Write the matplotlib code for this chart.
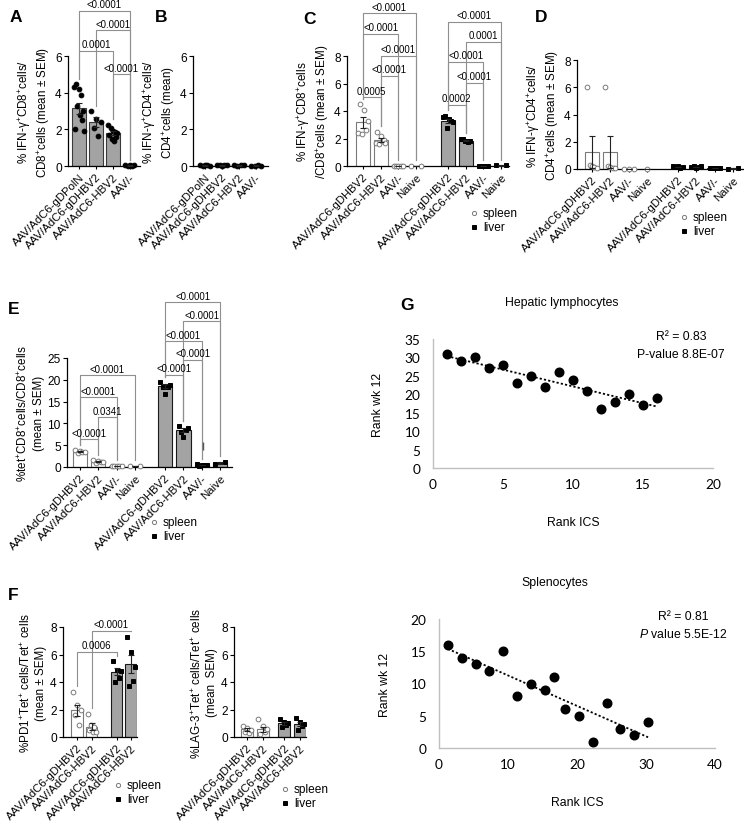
import numpy as np
import matplotlib
matplotlib.use('Agg')
import matplotlib.pyplot as plt
from matplotlib.lines import Line2D

plt.rcParams['font.family'] = ['Liberation Sans', 'DejaVu Sans']
plt.rcParams['mathtext.fontset'] = 'custom'
plt.rcParams['mathtext.rm'] = 'Liberation Sans'
plt.rcParams['mathtext.it'] = 'Liberation Sans:italic'

W, H = 744, 828

# ---------------- data ----------------
groups_a = ['AAV/AdC6-gDPolN', 'AAV/AdC6-gDHBV2', 'AAV/AdC6-HBV2', 'AAV/-']
groups_4 = ['AAV/AdC6-gDHBV2', 'AAV/AdC6-HBV2', 'AAV/-', 'Naive']
groups_2 = ['AAV/AdC6-gDHBV2', 'AAV/AdC6-HBV2']

# A: IFN-g+ CD8
a_mean = [3.15, 2.4, 1.8, 0.03]
a_sem = [0.3, 0.25, 0.1, 0.01]
a_dots = [[4.3, 2.0, 4.45, 3.3, 4.2, 2.8, 3.85, 2.5, 3.0, 1.9],
          [3.0, 2.05, 2.55, 1.65, 2.4],
          [2.25, 1.7, 2.05, 1.5, 1.9, 1.35, 1.85, 1.6, 1.8],
          [0.03, 0.02, 0.03, 0.02, 0.03]]
a_tests = [(0, 2, 6.3, '0.0001'), (2, 3, 5.0, '<0.0001'),
           (1, 3, 7.4, '<0.0001'), (0, 3, 8.45, '<0.0001')]

# B: IFN-g+ CD4
b_mean = [0.03, 0.03, 0.03, 0.02]
b_sem = [0.01, 0.01, 0.01, 0.01]
b_dots = [[0.03, 0.02, 0.04, 0.03, 0.02], [0.03, 0.04, 0.02, 0.03, 0.03],
          [0.04, 0.02, 0.03, 0.03], [0.02, 0.02, 0.03, 0.02]]

# C: IFN-g+ CD8 spleen (0-3) / liver (4-7)
c_mean = [3.2, 1.9, 0.02, 0.02, 3.3, 1.85, 0.02, 0.05]
c_sem = [0.4, 0.15, 0.01, 0.01, 0.15, 0.05, 0.01, 0.02]
c_dots = [[2.4, 4.5, 2.3, 4.05, 2.6, 3.3],
          [1.7, 2.5, 1.6, 2.2, 1.8, 1.9, 1.7],
          [0.02, 0.02, 0.02, 0.02, 0.02],
          [0.02, 0.02],
          [3.55, 3.65, 2.8, 3.4, 3.3, 3.2],
          [1.95, 2.0, 1.8, 1.85, 1.75, 1.85],
          [0.02, 0.02, 0.02, 0.02, 0.02],
          [0.04, 0.06]]
c_tests = [(0, 1, 5.0, '0.0005'), (1, 2, 6.55, '<0.0001'), (1, 3, 8.0, '<0.0001'),
           (0, 2, 9.6, '<0.0001'), (0, 3, 11.1, '<0.0001'),
           (4, 5, 4.45, '0.0002'), (5, 6, 6.05, '<0.0001'), (4, 6, 7.6, '<0.0001'),
           (5, 7, 9.05, '0.0001'), (4, 7, 10.5, '<0.0001')]

# D: IFN-g+ CD4 spleen / liver
d_mean = [1.25, 1.25, 0.02, 0.0, 0.15, 0.15, 0.05, 0.05]
d_sem = [1.2, 1.2, 0.01, 0.0, 0.02, 0.02, 0.01, 0.02]
d_dots = [[6.0, 0.3, 0.2, 0.15, 0.05],
          [6.0, 0.2, 0.15, 0.1, 0.05],
          [0.02, 0.02, 0.02],
          [0.0],
          [0.2, 0.15, 0.2, 0.1, 0.15],
          [0.15, 0.2, 0.1, 0.15, 0.2],
          [0.05, 0.04, 0.05, 0.06, 0.05],
          [0.03, 0.08]]

# E: tetramer+ CD8 spleen / liver
e_mean = [3.5, 1.2, 0.2, 0.2, 18.5, 8.5, 0.45, 1.0]
e_sem = [0.1, 0.1, 0.03, 0.03, 0.45, 0.45, 0.05, 0.2]
e_dots = [[3.8, 3.3, 3.6, 3.4, 3.5],
          [1.5, 1.0, 1.3, 1.1, 1.2],
          [0.3, 0.15, 0.2, 0.25, 0.2],
          [0.2, 0.25],
          [19.5, 18.3, 16.8, 18.4, 18.7],
          [9.3, 8.1, 6.9, 8.5, 9.0],
          [0.6, 0.3, 0.5, 0.4, 0.5],
          [0.8, 1.2]]
e_naive_liver_mark = (3.8, 5.7)
e_tests = [(0, 1, 6.35, '<0.0001'), (1, 2, 11.4, '0.0341'), (0, 2, 16.0, '<0.0001'),
           (0, 3, 21.0, '<0.0001'),
           (4, 5, 21.2, '<0.0001'), (5, 6, 24.6, '<0.0001'), (4, 6, 28.8, '<0.0001'),
           (5, 7, 33.4, '<0.0001'), (4, 7, 37.8, '<0.0001')]

# F: PD1+ and LAG-3+ of Tet+
f1_mean = [1.95, 0.75, 4.75, 5.3]
f1_sem = [0.4, 0.25, 0.25, 0.65]
f1_dots = [[3.3, 1.6, 2.3, 0.9, 2.0],
           [1.7, 0.5, 0.9, 0.35, 0.7, 0.4],
           [5.5, 4.0, 4.9, 4.3, 4.8],
           [7.3, 3.7, 6.2, 4.1, 5.1]]
f1_tests = [(0, 2, 6.2, '0.0006'), (1, 3, 7.7, '<0.0001')]

f2_mean = [0.55, 0.55, 1.0, 0.95]
f2_sem = [0.1, 0.2, 0.1, 0.15]
f2_dots = [[0.8, 0.4, 0.65, 0.3, 0.5],
           [1.3, 0.2, 0.8, 0.4, 0.6],
           [1.3, 0.7, 1.1, 0.9, 1.0],
           [1.35, 0.5, 1.1, 0.8, 0.95]]

# G: rank correlation
g1_x = [1, 2, 3, 4, 5, 6, 7, 8, 9, 10, 11, 12, 13, 14, 15, 16]
g1_y = [31, 29, 30, 27, 28, 23, 25, 22, 26, 24, 21, 16, 18, 20, 17, 19]
g2_x = [1.3, 3.3, 5.3, 7.3, 9.3, 11.3, 13.3, 15.3, 16.7, 18.3, 20.3, 22.3, 24.3, 26.3, 28.3, 30.3]
g2_y = [16, 14, 13, 12, 15, 8, 10, 9, 11, 6, 5, 1, 7, 3, 2, 4]

# ---------------- styles ----------------
STYLE = {
    'all':    dict(face='#a3a3a3', edge='#3a3a3a', mk='o', mfc='black', mec='black', ms=3.4),
    'spleen': dict(face='white', edge='#7a7a7a', mk='o', mfc='white', mec='#7a7a7a', ms=3.4),
    'liver':  dict(face='#a3a3a3', edge='#1a1a1a', mk='s', mfc='black', mec='black', ms=3.0),
}
BR_COLOR = '#8f8f8f'

fig = plt.figure(figsize=(W / 100, H / 100), dpi=100)


def px_axes(left, right, top, bottom):
    return fig.add_axes([left / W, 1 - bottom / H, (right - left) / W, (bottom - top) / H])


def bar_panel(ax, pos, labels, means, sems, dots, kinds, ymax, ystep, xlim, ylabel):
    for x, m, s, d, k in zip(pos, means, sems, dots, kinds):
        st = STYLE[k]
        ax.bar(x, m, width=0.78, color=st['face'], edgecolor=st['edge'], linewidth=0.8, zorder=2)
        n = len(d)
        offs = np.linspace(-0.27, 0.27, n) if n > 1 else np.array([0.0])
        ax.plot(x + offs, d, ls='none', marker=st['mk'], mfc=st['mfc'], mec=st['mec'],
                ms=st['ms'], mew=0.7, zorder=3, clip_on=False)
        ax.errorbar(x, m, yerr=s, color='#222222', lw=0.8, capsize=2.5, capthick=0.8, zorder=4)
    ax.set_xlim(*xlim)
    ax.set_ylim(0, ymax)
    ax.set_yticks(np.arange(0, ymax + 0.01, ystep))
    ax.set_xticks(pos)
    ax.set_xticklabels(labels, rotation=45, ha='right', rotation_mode='anchor', fontsize=8.2)
    ax.tick_params(axis='y', labelsize=8.6, length=3, width=0.8, pad=1.5)
    ax.tick_params(axis='x', length=2.5, width=0.8, pad=1.5)
    for sp in ['top', 'right']:
        ax.spines[sp].set_visible(False)
    for sp in ['left', 'bottom']:
        ax.spines[sp].set_linewidth(0.9)
    ax.set_ylabel(ylabel, fontsize=8.4, linespacing=1.25, labelpad=2)


def add_tests(ax, pos, means, sems, dots, tests, ymax):
    pad = 0.05 * ymax
    for i, j, y, txt in tests:
        yi = max(max(dots[i]), means[i] + sems[i]) + pad
        yj = max(max(dots[j]), means[j] + sems[j]) + pad
        ax.plot([pos[i], pos[i], pos[j], pos[j]], [yi, y, y, yj], color=BR_COLOR,
                lw=0.8, clip_on=False, zorder=1)
        ax.annotate(txt, ((pos[i] + pos[j]) / 2, y), xytext=(0, 1.2), textcoords='offset points',
                    ha='center', va='bottom', fontsize=6.9, annotation_clip=False)


def add_key(x, y):
    for k, name, dy in [('spleen', 'spleen', 0), ('liver', 'liver', 14)]:
        st = STYLE[k]
        fig.add_artist(Line2D([x / W], [1 - (y + dy) / H], transform=fig.transFigure,
                              ls='none', marker=st['mk'], mfc=st['mfc'], mec=st['mec'],
                              ms=st['ms'] - 0.4, mew=0.7))
        fig.text((x + 9) / W, 1 - (y + dy) / H, name, fontsize=8.6, va='center', ha='left')


def letter(x, y, s):
    fig.text(x / W, 1 - y / H, s, fontsize=12.5, fontweight='bold', ha='left', va='center')


pos4 = [0, 1, 2, 3]

# A
ax = px_axes(68, 140, 57, 167)
bar_panel(ax, pos4, groups_a, a_mean, a_sem, a_dots, ['all'] * 4, 6, 2, (-0.65, 3.6),
          '% IFN-γ$^{+}$CD8$^{+}$cells/\nCD8$^{+}$cells (mean ± SEM)')
add_tests(ax, pos4, a_mean, a_sem, a_dots, a_tests, 6)
letter(10, 18, 'A')

# B
ax = px_axes(193, 268, 57, 167)
bar_panel(ax, pos4, groups_a, b_mean, b_sem, b_dots, ['all'] * 4, 6, 2, (-0.7, 3.7),
          '% IFN-γ$^{+}$CD4$^{+}$cells/\nCD4$^{+}$cells (mean)')
letter(155, 18, 'B')

# C
pos_c = [0, 1, 2, 3, 4.8, 5.8, 6.8, 7.8]
kinds8 = ['spleen'] * 4 + ['liver'] * 4
ax = px_axes(347, 509, 57, 167)
bar_panel(ax, pos_c, groups_4 * 2, c_mean, c_sem, c_dots, kinds8, 8, 2, (-0.9, 8.25),
          '% IFN-γ$^{+}$CD8$^{+}$cells\n/CD8$^{+}$cells (mean ± SEM)')
add_tests(ax, pos_c, c_mean, c_sem, c_dots, c_tests, 8)
add_key(474, 214)
letter(303, 20, 'C')

# D
pos_d = [0, 1, 2, 3, 4.7, 5.7, 6.7, 7.7]
ax = px_axes(577, 743, 61, 170)
bar_panel(ax, pos_d, groups_4 * 2, d_mean, d_sem, d_dots, kinds8, 8, 2, (-0.82, 8.25),
          '% IFN-γ$^{+}$CD4$^{+}$cells/\nCD4$^{+}$cells (mean ± SEM)')
add_key(684, 218)
letter(535, 18, 'D')

# E
pos_e = [0, 1, 2, 3, 4.65, 5.65, 6.65, 7.65]
ax = px_axes(67, 232, 359, 468)
bar_panel(ax, pos_e, groups_4 * 2, e_mean, e_sem, e_dots, kinds8, 25, 5, (-0.71, 8.3),
          '%tet$^{+}$CD8$^{+}$cells/CD8$^{+}$cells\n(mean ± SEM)')
add_tests(ax, pos_e, e_mean, e_sem, e_dots, e_tests, 25)
ax.vlines(pos_e[7] - 0.95, *e_naive_liver_mark, color='#555555', lw=1.0)
add_key(154, 523)
letter(8, 309, 'E')

# F left
pos_f1 = [0, 1, 2.7, 3.7]
kinds4 = ['spleen', 'spleen', 'liver', 'liver']
ax = px_axes(63, 137, 628, 738)
bar_panel(ax, pos_f1, groups_2 * 2, f1_mean, f1_sem, f1_dots, kinds4, 8, 2, (-0.97, 4.1),
          '%PD1$^{+}$Tet$^{+}$ cells/Tet$^{+}$ cells\n(mean ± SEM)')
add_tests(ax, pos_f1, f1_mean, f1_sem, f1_dots, f1_tests, 8)
add_key(118, 786)
letter(8, 596, 'F')

# F right
pos_f2 = [0, 1, 2.4, 3.4]
ax = px_axes(234, 306, 628, 738)
bar_panel(ax, pos_f2, groups_2 * 2, f2_mean, f2_sem, f2_dots, kinds4, 8, 2, (-0.84, 3.8),
          '%LAG-3$^{+}$Tet$^{+}$ cells/Tet$^{+}$ cells\n(mean  SEM)')
add_key(285, 790)


# G
def rank_panel(ax, x, y, xmax, xstep, ymax, ystep, title, title_x, r2, ptxt):
    ax.plot(x, y, ls='none', marker='o', color='black', ms=6.2, zorder=3)
    k, b = np.polyfit(x, y, 1)
    xs = np.array([min(x), max(x)])
    ax.plot(xs, k * xs + b, ls=(0, (1.2, 1.2)), color='black', lw=1.3, zorder=2)
    ax.set_xlim(0, xmax)
    ax.set_ylim(0, ymax)
    ax.set_xticks(np.arange(0, xmax + 0.01, xstep))
    ax.set_yticks(np.arange(0, ymax + 0.01, ystep))
    for sp in ['top', 'right']:
        ax.spines[sp].set_visible(False)
    for sp in ['left', 'bottom']:
        ax.spines[sp].set_color('#c0c0c0')
        ax.spines[sp].set_linewidth(1.0)
    ax.tick_params(length=0, labelsize=9.8, pad=7)
    for t in ax.get_xticklabels() + ax.get_yticklabels():
        t.set_family(['Lato', 'DejaVu Sans'])
    ax.tick_params(axis='y', pad=9)
    ax.set_xlabel('Rank ICS', fontsize=8.8)
    ax.xaxis.set_label_coords(0.5, -0.37)
    ax.set_ylabel('Rank wk 12', fontsize=8.8)
    ax.yaxis.set_label_coords(-0.175, 0.5)
    ax.text(title_x, 1.29, title, transform=ax.transAxes, ha='center', va='center', fontsize=8.8)
    ax.text(0.885, 1.02, r2, transform=ax.transAxes, ha='center', va='center', fontsize=8.8)
    ax.text(0.885, 0.885, ptxt, transform=ax.transAxes, ha='center', va='center', fontsize=8.8)


ax = px_axes(433, 713, 340, 469)
rank_panel(ax, g1_x, g1_y, 20, 5, 35, 5, 'Hepatic lymphocytes', 0.46,
           'R² = 0.83', 'P-value 8.8E-07')
letter(400, 305, 'G')

ax = px_axes(439, 715, 620, 749)
rank_panel(ax, g2_x, g2_y, 40, 10, 20, 5, 'Splenocytes', 0.42,
           'R² = 0.81', '$\\mathit{P}$ value 5.5E-12')

fig.savefig('out.png', dpi=100)
